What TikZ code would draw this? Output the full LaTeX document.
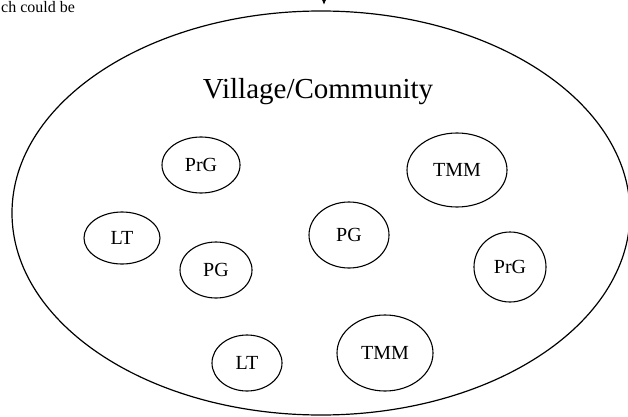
\documentclass[tikz,border=0pt]{standalone}
\usepackage{fontspec}
\setmainfont{Liberation Serif}
\usetikzlibrary{shapes.geometric, arrows.meta}

\begin{document}
\begin{tikzpicture}[
        x=1pt, y=1pt,
        area/.style={ellipse, draw=black, line width=1.2pt, inner sep=0pt, minimum width=618pt, minimum height=404pt},
        group/.style={ellipse, draw=black, line width=1.1pt, inner sep=0pt, font=\fontsize{20}{22}\selectfont},
        arrow/.style={-{Stealth[length=6pt, width=5pt]}, line width=1pt}
    ]
        \useasboundingbox (0,0) rectangle (628,416);
        \clip (0,0) rectangle (628,416);

        \node[area] (village) at (321,203) {};
        \node[anchor=base, font=\fontsize{29}{32}\selectfont, inner sep=0pt] (title) at (318,318) {Village/Community};
        \node[anchor=base west, font=\fontsize{16}{18}\selectfont, inner sep=0pt] (note) at (1,403) {ch could be};

        \node[group, minimum width=78pt, minimum height=56pt] (prg1) at (201,251) {PrG};
        \node[group, minimum width=100pt, minimum height=74pt] (tmm1) at (457,246) {TMM};
        \node[group, minimum width=76pt, minimum height=52pt] (lt1) at (122,178) {LT};
        \node[group, minimum width=72pt, minimum height=56pt] (pg1) at (216,146) {PG};
        \node[group, minimum width=80pt, minimum height=66pt] (pg2) at (349,181) {PG};
        \node[group, minimum width=72pt, minimum height=70pt] (prg2) at (510,149) {PrG};
        \node[group, minimum width=70pt, minimum height=56pt] (lt2) at (247,53) {LT};
        \node[group, minimum width=96pt, minimum height=76pt] (tmm2) at (385,63) {TMM};

        \coordinate (src) at (324,440);
        \draw[arrow] (src) -- ([xshift=3pt, yshift=6pt]village.north);
    \end{tikzpicture}
\end{document}
